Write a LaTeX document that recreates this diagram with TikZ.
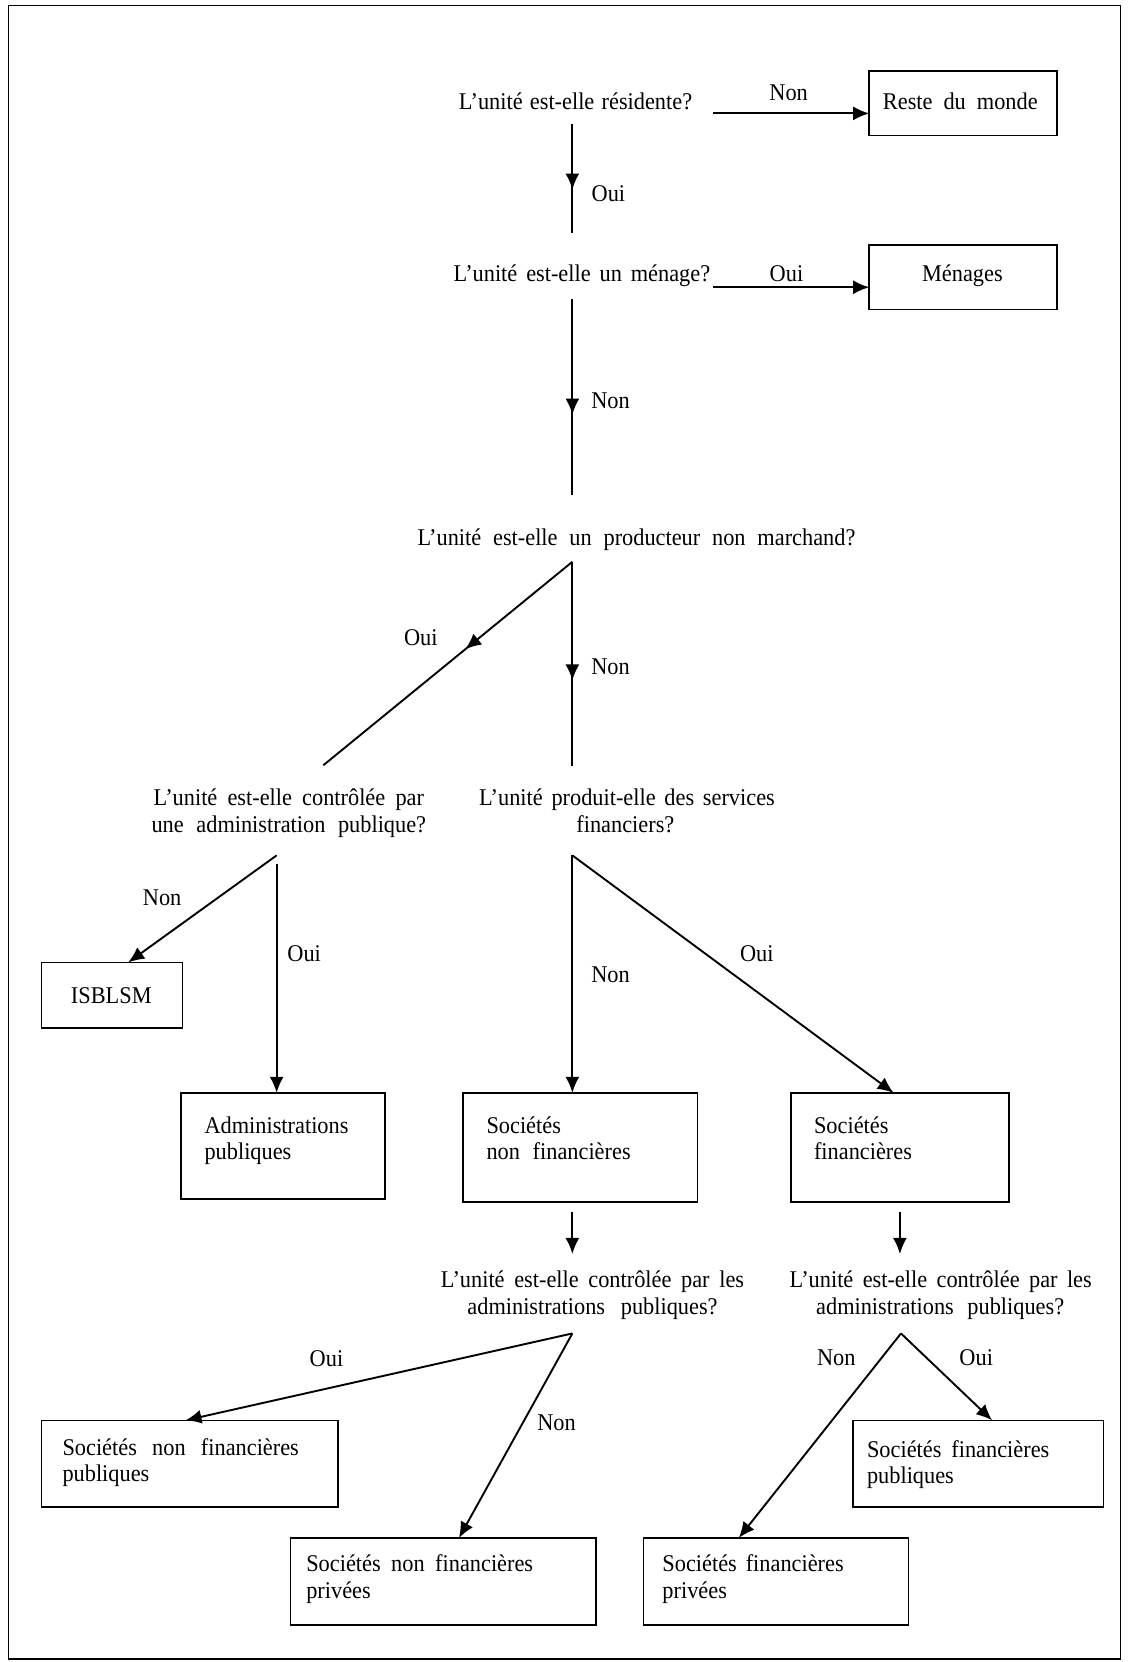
\documentclass[tikz,border=0pt]{standalone}
\usepackage{fontspec}
\setmainfont{Liberation Serif}[FakeStretch=0.93]
\usetikzlibrary{arrows.meta,decorations.markings}
\newlength\ux \setlength\ux{0.5298pt}
\newcommand\sx[2]{\makebox[#1\ux][s]{#2}}
\begin{document}
\begin{tikzpicture}[x=0.5298pt,y=-0.5298pt,
  every node/.style={font=\fontsize{12}{13.25}\selectfont, inner sep=0pt, outer sep=0pt},
  txt/.style={anchor=base},
  ltxt/.style={anchor=base west},
  box/.style={draw, line width=0.8pt},
  conn/.style={line width=0.95pt},
  arr/.style={conn, -{Latex[length=8pt,width=7pt]}},
  midarr/.style={conn, postaction={decorate}, decoration={markings, mark=at position #1 with {\arrow{Latex[length=8pt,width=7pt]}}}},
]
\useasboundingbox (0,0) rectangle (1074,1568);
\draw[line width=0.7pt] (8,5) rectangle (1057,1565);

% questions
\node[txt] (q1) at (543,103) {\sx{220}{L'unité est-elle résidente?}};
\node[txt] (q2) at (549,266) {\sx{242}{L'unité est-elle un ménage?}};
\node[txt] (q3) at (600.5,515) {\sx{413}{L'unité est-elle un producteur non marchand?}};
\node[txt] (q4a) at (272.5,760) {\sx{255}{L'unité est-elle contrôlée par}};
\node[txt] (q4b) at (272.5,785) {\sx{259}{une administration publique?}};
\node[txt] (q5a) at (591.5,760) {\sx{279}{L'unité produit-elle des services}};
\node[txt] (q5b) at (590,785) {financiers?};
\node[txt] (q6a) at (559,1215) {\sx{286}{L'unité est-elle contrôlée par les}};
\node[txt] (q6b) at (559,1240) {\sx{236}{administrations publiques?}};
\node[txt] (q7a) at (887.5,1215) {\sx{285}{L'unité est-elle contrôlée par les}};
\node[txt] (q7b) at (887,1240) {\sx{234}{administrations publiques?}};

% boxes
\node[box, minimum width=177\ux, minimum height=61\ux] (rdm) at (908.5,97.5) {};
\node[txt] (rdmt) at (906,103) {\sx{146}{Reste du monde}};
\node[box, minimum width=177\ux, minimum height=61\ux] (men) at (908.5,261.5) {};
\node[txt] (ment) at (908,266) {Ménages};
\node[box, minimum width=133\ux, minimum height=62\ux] (isb) at (105.5,939) {};
\node[txt] (isbt) at (105,947) {ISBLSM};
\node[box, minimum width=192\ux, minimum height=100\ux] (adm) at (267,1081) {};
\node[ltxt] (adm1) at (193,1069) {Administrations};
\node[ltxt] (adm2) at (193,1094) {publiques};
\node[box, minimum width=221\ux, minimum height=103\ux] (snf) at (547.5,1082.5) {};
\node[ltxt] (snf1) at (459,1069) {Sociétés};
\node[ltxt] (snf2) at (459,1094) {\sx{136}{non financières}};
\node[box, minimum width=206\ux, minimum height=103\ux] (sf) at (849,1082.5) {};
\node[ltxt] (sf1) at (768,1069) {Sociétés};
\node[ltxt] (sf2) at (768,1094) {financières};
\node[box, minimum width=280\ux, minimum height=82\ux] (snfpub) at (179,1381) {};
\node[ltxt] (snfpub1) at (59,1373) {\sx{223}{Sociétés non financières}};
\node[ltxt] (snfpub2) at (59,1398) {publiques};
\node[box, minimum width=288\ux, minimum height=82\ux] (snfpriv) at (418,1492) {};
\node[ltxt] (snfpriv1) at (289,1483) {\sx{214}{Sociétés non financières}};
\node[ltxt] (snfpriv2) at (289,1508) {privées};
\node[box, minimum width=236\ux, minimum height=82\ux] (sfpub) at (923,1381) {};
\node[ltxt] (sfpub1) at (818,1375) {\sx{172}{Sociétés financières}};
\node[ltxt] (sfpub2) at (818,1400) {publiques};
\node[box, minimum width=250\ux, minimum height=82\ux] (sfpriv) at (732,1492) {};
\node[ltxt] (sfpriv1) at (625,1483) {\sx{171}{Sociétés financières}};
\node[ltxt] (sfpriv2) at (625,1508) {privées};

% labels
\node[txt] (l1) at (744,95) {Non};
\node[txt] (l2) at (574,190) {Oui};
\node[txt] (l3) at (742,266) {Oui};
\node[txt] (l4) at (576,385) {Non};
\node[txt] (l5) at (397,609) {Oui};
\node[txt] (l6) at (576,636) {Non};
\node[txt] (l7) at (153,854) {Non};
\node[txt] (l8) at (287,907) {Oui};
\node[txt] (l9) at (576,927) {Non};
\node[txt] (l10) at (714,907) {Oui};
\node[txt] (l11) at (308,1289) {Oui};
\node[txt] (l12) at (525,1350) {Non};
\node[txt] (l13) at (789,1288) {Non};
\node[txt] (l14) at (921,1288) {Oui};

% connector ends
\coordinate (q1r) at (673,107);
\coordinate (q1d) at (540,117);
\coordinate (q2u) at (540,220);
\coordinate (q2r) at (673,271);
\coordinate (q2d) at (540,282);
\coordinate (q3u) at (540,467);
\coordinate (q3d) at (540,530);
\coordinate (q4u) at (305,722);
\coordinate (q5u) at (540,723);
\coordinate (q4dl) at (261,807);
\coordinate (q4dd) at (261,815);
\coordinate (q5d) at (540,807);
\coordinate (snfd) at (540,1143);
\coordinate (q6u) at (540,1183);
\coordinate (sfd) at (849,1143);
\coordinate (q7u) at (849,1183);
\coordinate (q6d) at (540,1258);
\coordinate (q7d) at (850,1258);

\draw[arr] (q1r) -- (q1r -| rdm.west);
\draw[midarr=0.6] (q1d) -- (q2u);
\draw[arr] (q2r) -- (q2r -| men.west);
\draw[midarr=0.59] (q2d) -- (q3u);
\draw[midarr=0.43] (q3d) -- (q4u);
\draw[midarr=0.58] (q3d) -- (q5u);
\draw[arr] (q4dl) -- ([xshift=15.5\ux]isb.north);
\draw[arr] (q4dd) -- ([xshift=-6\ux]adm.north);
\draw[arr] (q5d) -- ([xshift=-7.5\ux]snf.north);
\draw[arr] (q5d) -- ([xshift=-6\ux]sf.north);
\draw[arr] (snfd) -- (q6u);
\draw[arr] (sfd) -- (q7u);
\draw[arr] (q6d) -- ([xshift=-4\ux]snfpub.north);
\draw[arr] (q6d) -- ([xshift=15\ux]snfpriv.north);
\draw[arr] (q7d) -- ([xshift=13\ux]sfpub.north);
\draw[arr] (q7d) -- ([xshift=-35\ux]sfpriv.north);
\end{tikzpicture}
\end{document}
